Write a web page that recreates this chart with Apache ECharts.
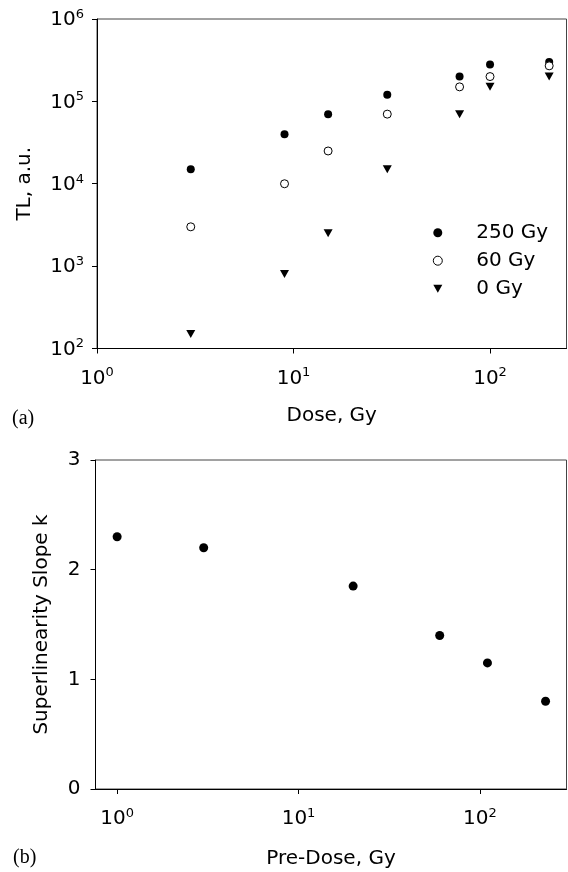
<!DOCTYPE html>
<html>
<head>
<meta charset="utf-8">
<script src="https://cdn.jsdelivr.net/npm/echarts@6/dist/echarts.min.js"></script>
<style>
  html, body { margin: 0; padding: 0; background: #fff; }
  #chart { width: 568px; height: 872px; }
</style>
</head>
<body>
<div id="chart"></div>
<script>
// (a) TL signal vs test dose, three pre-doses
const doses = [3, 9, 15, 30, 70, 100, 200];
const tl250 = [15000, 40000, 70000, 120000, 200000, 280000, 300000];
const tl60 = [3000, 10000, 25000, 70000, 150000, 200000, 270000];
const tl0 = [150, 800, 2500, 15000, 70000, 150000, 200000];
const seriesNames = ['250 Gy', '60 Gy', '0 Gy'];

// (b) superlinearity slope vs pre-dose
const preDoses = [1, 3, 20, 60, 110, 230];
const slopes = [2.3, 2.2, 1.85, 1.4, 1.15, 0.8];

const FONT = 'DejaVu Sans';
const DOWN_TRIANGLE = 'path://M0,0L10,0L5,9Z';
const pairs = (xs, ys) => xs.map((x, i) => [x, ys[i]]);

// 10^n labels for the log axes
function powLabel(v) {
  const e = Math.log10(v);
  if (Math.abs(e - Math.round(e)) > 1e-6) return '';
  return '{b|10}{s|' + Math.round(e) + '}';
}
const supRich = {
  b: { fontFamily: FONT, fontSize: 20, color: '#000', verticalAlign: 'bottom' },
  s: { fontFamily: FONT, fontSize: 13, color: '#000', verticalAlign: 'bottom', padding: [0, 0, 9, 0] }
};

const axisCommon = {
  axisLine: { show: true, onZero: false, lineStyle: { color: '#000', width: 1 } },
  axisTick: { show: true, inside: false, length: 5, lineStyle: { color: '#000' } },
  splitLine: { show: false },
  nameLocation: 'middle',
  nameTextStyle: { fontFamily: FONT, fontSize: 20, color: '#000' }
};

const chart = echarts.init(document.getElementById('chart'), null, { renderer: 'canvas' });

chart.setOption({
  animation: false,
  backgroundColor: '#fff',
  grid: [
    { left: 97, top: 19, width: 469.5, height: 329.5, show: true, borderColor: '#444', borderWidth: 1 },
    { left: 95.5, top: 460, width: 471, height: 329, show: true, borderColor: '#444', borderWidth: 1 }
  ],
  xAxis: [
    Object.assign({}, axisCommon, {
      type: 'log', logBase: 10, gridIndex: 0, min: 1, max: 245,
      name: 'Dose, Gy', nameGap: 57,
      axisLabel: { formatter: powLabel, rich: supRich, margin: 18, showMaxLabel: false }
    }),
    Object.assign({}, axisCommon, {
      type: 'log', logBase: 10, gridIndex: 1, min: 0.76, max: 300,
      name: 'Pre-Dose, Gy', nameGap: 60,
      axisLabel: { formatter: powLabel, rich: supRich, margin: 18, showMinLabel: false, showMaxLabel: false }
    })
  ],
  yAxis: [
    Object.assign({}, axisCommon, {
      type: 'log', logBase: 10, gridIndex: 0, min: 100, max: 1000000,
      name: 'TL, a.u.', nameGap: 62,
      axisLabel: { formatter: powLabel, rich: supRich, margin: 13 }
    }),
    Object.assign({}, axisCommon, {
      type: 'value', gridIndex: 1, min: 0, max: 3, interval: 1,
      name: 'Superlinearity Slope k', nameGap: 44,
      axisLabel: { fontFamily: FONT, fontSize: 20, color: '#000', margin: 15 }
    })
  ],
  legend: {
    orient: 'vertical',
    left: 427.8,
    top: 217.7,
    itemWidth: 9,
    itemHeight: 9,
    itemGap: 8,
    data: [
      { name: seriesNames[0], icon: 'circle' },
      { name: seriesNames[1], icon: 'circle', itemStyle: { borderWidth: 1 } },
      { name: seriesNames[2], icon: DOWN_TRIANGLE }
    ],
    textStyle: { fontFamily: FONT, fontSize: 20, color: '#000', lineHeight: 20, padding: [0, 0, 0, 29] }
  },
  series: [
    {
      name: seriesNames[0], type: 'scatter', xAxisIndex: 0, yAxisIndex: 0,
      symbol: 'circle', symbolSize: 8,
      itemStyle: { color: '#000', opacity: 1 },
      data: pairs(doses, tl250)
    },
    {
      name: seriesNames[1], type: 'scatter', xAxisIndex: 0, yAxisIndex: 0,
      symbol: 'circle', symbolSize: 8,
      itemStyle: { color: '#fff', borderColor: '#000', borderWidth: 1, opacity: 1 },
      data: pairs(doses, tl60)
    },
    {
      name: seriesNames[2], type: 'scatter', xAxisIndex: 0, yAxisIndex: 0,
      symbol: DOWN_TRIANGLE, symbolSize: [9, 8],
      itemStyle: { color: '#000', opacity: 1 },
      data: pairs(doses, tl0)
    },
    {
      name: 'slope', type: 'scatter', xAxisIndex: 1, yAxisIndex: 1,
      symbol: 'circle', symbolSize: 9,
      itemStyle: { color: '#000', opacity: 1 },
      data: pairs(preDoses, slopes)
    }
  ],
  graphic: [
    { type: 'text', x: 12, y: 419, style: { text: '(a)', font: '20px "Liberation Serif"', fill: '#000', verticalAlign: 'middle' } },
    { type: 'text', x: 13, y: 858, style: { text: '(b)', font: '20px "Liberation Serif"', fill: '#000', verticalAlign: 'middle' } }
  ]
});
</script>
</body>
</html>
